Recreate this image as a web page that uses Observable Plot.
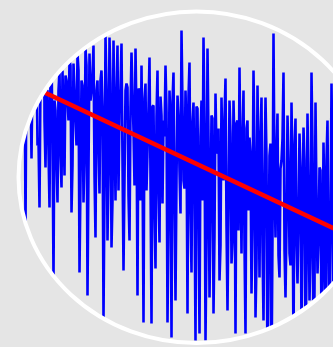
<!DOCTYPE html>
<html><head><meta charset="utf-8">
<script src="https://cdn.jsdelivr.net/npm/d3@7"></script>
<script src="https://cdn.jsdelivr.net/npm/@observablehq/plot@0.6"></script>
<style>html,body{margin:0;padding:0;background:#e5e5e5;overflow:hidden}#chart svg{display:block}</style>
</head><body><div id="chart"></div>
<script>
// Values; larger values sit lower on the chart.
// "peaks": the samples at the tips of the spikes (even samples)
const peaks = [
 -160, 60, -180, 30, 230, -140, 40, 158, -190, 20, 145, 207, -120, -160, 167, 90, 207, 60, 278, 110,
 202, 70, 187, 120, 75, 100, 60, 212, 63, 120, 53, 272, 80, 202, 48, 295, 53, 90, 45, 237,
 80, 193, 70, 318, 35, 240, 37, 247, 40, 200, 45, 110, 43, 270, 90, 87, 240, 52, 130, 48,
 295, 90, 65, 322, 83, 150, 57, 323, 105, 268, 70, 242, 115, 120, 65, 322, 90, 337, 72, 300,
 95, 170, 30, 180, 90, 313, 62, 272, 102, 340, 108, 333, 100, 37, 340, 48, 297, 115, 313, 93,
 150, 280, 97, 180, 78, 310, 100, 263, 100, 333, 120, 67, 253, 90, 333, 120, 137, 293, 70, 317,
 85, 277, 97, 320, 97, 390, 155, 380, 33, 237, 113, 277, 160, 72, 297, 115, 253, 102, 350, 118,
 283, 133, 330, 127, 360, 113, 300, 72, 380, 102, 273, 167, 330, 142, 330, 120, 370, 83, 300, 137,
 200, 160, 200, 150, 200, 170, 220, 200
];
// "body": the samples in the dense band between the spikes (odd samples)
const body = [
 40, 0, 70, 20, 50, -10, 80, 70, 110, 50, 140, 80, 60, 120, 90, 150, 70, 130, 100, 160, 90,
 155, 70, 175, 80, 120, 65, 165, 90, 145, 70, 180, 85, 155, 65, 170, 100, 75, 175, 90, 145, 80,
 108, 190, 88, 170, 83, 200, 118, 98, 190, 88, 160, 180, 83, 195, 108, 93, 185, 118, 88, 200, 160, 98, 190, 108,
 178, 106, 213, 116, 188, 96, 203, 136, 111, 218, 126, 101, 198, 178, 116, 213, 106, 188, 131, 96, 208, 121, 193, 106, 218, 136,
 200, 123, 240, 138, 215, 118, 235, 153, 128, 245, 158, 118, 225, 205, 133, 240, 148, 123, 230, 163, 138, 245, 128, 210, 153,
 220, 148, 260, 168, 138, 245, 183, 158, 265, 143, 235, 178, 153, 255, 168, 138, 250, 225, 158, 265, 178, 148, 240, 220, 168,
 220, 160, 270, 190, 250, 150, 290, 200, 240, 170, 280, 210, 160, 260, 230, 180, 290, 200, 250, 170, 280, 220, 190, 270, 240
];

const data = [];
peaks.forEach((p, k) => {
  data.push({i: 2 * k, v: p});
  if (k < body.length) data.push({i: 2 * k + 1, v: body[k]});
});
const xDomain = [0, data.length - 1];
const yDomain = [0, 347];

const chart = Plot.plot({
  width: 333,
  height: 347,
  margin: 0,
  x: {domain: xDomain, range: [17, 351], axis: null},
  y: {domain: yDomain, range: [0, 347], axis: null},
  style: {background: "#e5e5e5"},
  marks: [
    Plot.line(data, {x: "i", y: "v", stroke: "#0000ff", strokeWidth: 2.6, strokeLinejoin: "miter"}),
    Plot.linearRegressionY(data, {x: "i", y: "v", stroke: "#ff0000", strokeWidth: 4.5, ci: 0})
  ]
});
document.getElementById("chart").appendChild(chart);

// clip everything to the disc and draw its white outline
const svg = d3.select(chart);
const marksG = svg.selectAll(":scope > g");
const defs = svg.insert("defs", ":first-child");
defs.append("clipPath").attr("id", "disc")
  .append("ellipse").attr("cx", 196.5).attr("cy", 177.25).attr("rx", 178).attr("ry", 165.75);
marksG.attr("clip-path", "url(#disc)");
svg.append("ellipse").attr("cx", 196.5).attr("cy", 177.25).attr("rx", 178).attr("ry", 165.75)
  .attr("fill", "none").attr("stroke", "#ffffff").attr("stroke-width", 4);
</script>
</body></html>
